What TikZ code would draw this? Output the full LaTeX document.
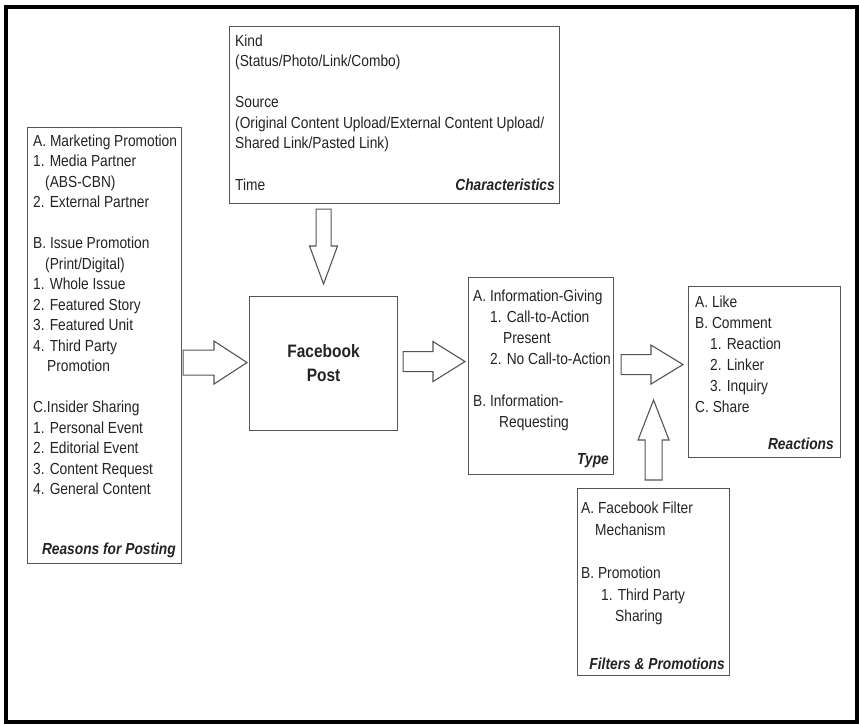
\documentclass[tikz,border=0pt]{standalone}
\usepackage{fontspec}
\setmainfont[FakeStretch=0.86]{Liberation Sans}
\usetikzlibrary{calc}

\definecolor{boxgray}{RGB}{85,85,85}
\definecolor{inkgray}{RGB}{35,35,35}

\tikzset{
  box/.style={draw=boxgray, line width=1.1pt, inner sep=0pt, anchor=north west},
  itemtext/.style={anchor=north west, inner sep=0pt, align=left, text=inkgray, font=\fontsize{16}{20.5}\selectfont},
  boxlabel/.style={anchor=base east, inner sep=0pt, text=inkgray, font=\fontsize{16}{20}\selectfont\bfseries\itshape},
  fatarrow/.style={draw=boxgray, line width=1.1pt, fill=white, line join=miter}
}

% #1 tail, #2 tip, #3 half shaft, #4 half head, #5 head length
\newcommand{\blockarrow}[5]{%
  \coordinate (neck) at ($(#2)!#5!(#1)$);
  \draw[fatarrow] ($(#1)!#3!90:(#2)$) -- ($(neck)!#3!90:(#2)$) -- ($(neck)!#4!90:(#2)$) -- (#2)
    -- ($(neck)!#4!-90:(#2)$) -- ($(neck)!#3!-90:(#2)$) -- ($(#1)!#3!-90:(#2)$) -- cycle;}

\begin{document}
\begin{tikzpicture}[x=1pt,y=1pt,yscale=-1,xscale=1]
        \useasboundingbox (0,0) rectangle (859,725);
        %Outer frame
        \draw [line width=4pt] (6,7) rectangle (856.5,721.5);

        %Shape: Boxes
        \node [box, minimum width=154, minimum height=436] (reasons) at (27,127) {};
        \node [box, minimum width=330, minimum height=177] (chars) at (229,26) {};
        \node [box, minimum width=148, minimum height=134] (post) at (249,296) {};
        \node [box, minimum width=145, minimum height=197] (type) at (468,277) {};
        \node [box, minimum width=152, minimum height=171] (reactions) at (688,286) {};
        \node [box, minimum width=152, minimum height=187] (filters) at (577,488) {};

        % Text Node
        \node [itemtext] (reasonstext) at (33,134.5) {A. Marketing Promotion\\
          1. Media Partner\\
          \hspace*{12pt}(ABS-CBN)\\
          2. External Partner\\[20.5pt]
          B. Issue Promotion\\
          \hspace*{12pt}(Print/Digital)\\
          1. Whole Issue\\
          2. Featured Story\\
          3. Featured Unit\\
          4. Third Party\\
          \hspace*{14pt}Promotion\\[20.5pt]
          C.Insider Sharing\\
          1. Personal Event\\
          2. Editorial Event\\
          3. Content Request\\
          4. General Content};
        \node [boxlabel] (reasonslabel) at (176,554) {Reasons for Posting};
        % Text Node
        \node [itemtext] (charstext) at (235,34.5) {Kind\\
          (Status/Photo/Link/Combo)\\[20.5pt]
          Source\\
          (Original Content Upload/External Content Upload/\\
          Shared Link/Pasted Link)\\[21.5pt]
          Time};
        \node [boxlabel] (charslabel) at (555,190) {Characteristics};
        % Text Node
        \node [align=center, inner sep=0pt, text=inkgray, font=\fontsize{18}{24}\selectfont\bfseries] (posttext) at (post.center) {Facebook\\Post};
        % Text Node
        \node [itemtext, font=\fontsize{16}{21}\selectfont] (typetext) at (473,289.5) {A. Information-Giving\\
          \hspace*{17pt}1. Call-to-Action\\
          \hspace*{30pt}Present\\
          \hspace*{17pt}2. No Call-to-Action\\[21pt]
          B. Information-\\
          \hspace*{26pt}Requesting};
        \node [boxlabel] (typelabel) at (609,464) {Type};
        % Text Node
        \node [itemtext, font=\fontsize{16}{21}\selectfont] (reactionstext) at (695,295.5) {A. Like\\
          B. Comment\\
          \hspace*{15pt}1. Reaction\\
          \hspace*{15pt}2. Linker\\
          \hspace*{15pt}3. Inquiry\\
          C. Share};
        \node [boxlabel] (reactionslabel) at (834,449) {Reactions};
        % Text Node
        \node [itemtext, font=\fontsize{16}{21.7}\selectfont] (filterstext) at (581,501.5) {A. Facebook Filter\\
          \hspace*{14pt}Mechanism\\[21.7pt]
          B. Promotion\\
          \hspace*{20pt}1. Third Party\\
          \hspace*{34pt}Sharing};
        \node [boxlabel] (filterslabel) at (725,669) {Filters \& Promotions};

        %Block arrows
        \coordinate (a1tail) at ($(reasons.east |- post.west)+(1,-1)$);
        \coordinate (a1tip) at ($(post.west)+(-2,-1)$);
        \blockarrow{a1tail}{a1tip}{12.5pt}{21.5pt}{33pt}
        \coordinate (a2tail) at ($(post.east)+(5,-2)$);
        \coordinate (a2tip) at ($(type.west |- post.east)+(-3,-2)$);
        \blockarrow{a2tail}{a2tip}{10pt}{20pt}{32pt}
        \coordinate (a3tail) at ($(type.east |- post.east)+(7,1)$);
        \coordinate (a3tip) at ($(reactions.west |- post.east)+(-5,1)$);
        \blockarrow{a3tail}{a3tip}{10pt}{19.5pt}{32pt}
        \coordinate (a4tail) at ($(post.north |- chars.south)+(0,5)$);
        \coordinate (a4tip) at ($(post.north)+(0,-12)$);
        \blockarrow{a4tail}{a4tip}{7.5pt}{14pt}{38pt}
        \coordinate (a5tail) at ($(filters.north)+(0,-8)$);
        \coordinate (a5tip) at ($(filters.north)+(0,-88)$);
        \blockarrow{a5tail}{a5tip}{8.5pt}{15.5pt}{40pt}
\end{tikzpicture}
\end{document}
